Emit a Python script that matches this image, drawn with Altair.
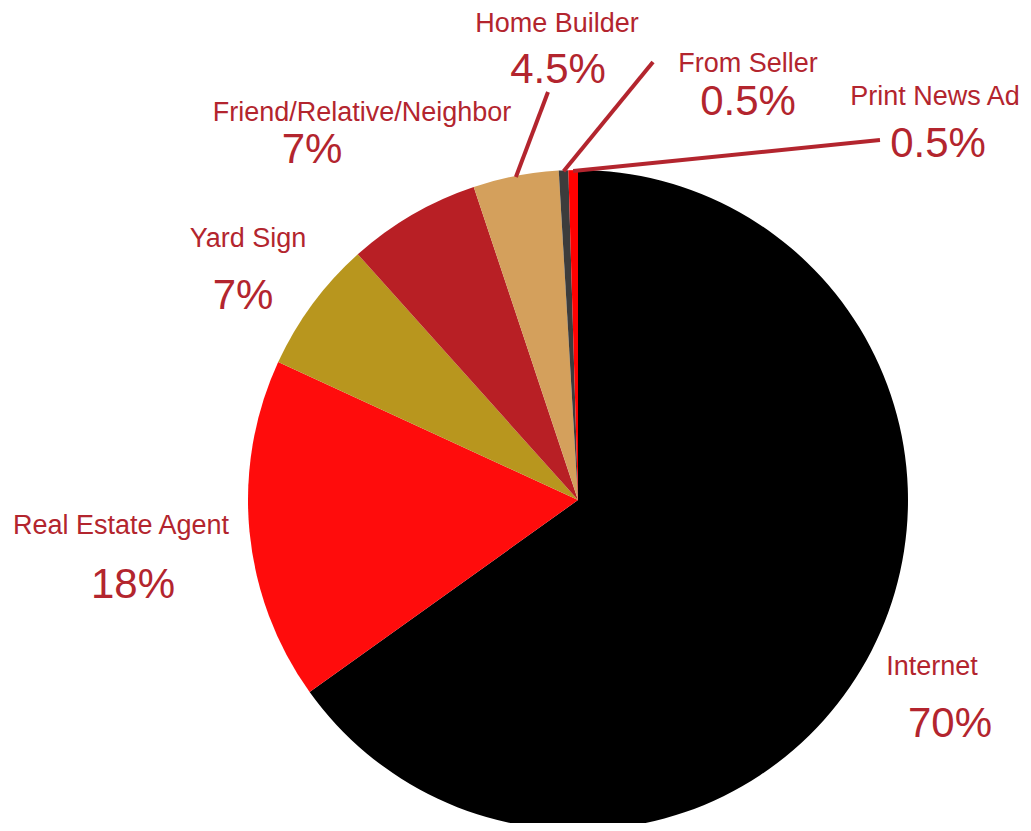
import math
import altair as alt
import pandas as pd

# ---- data ----
categories = ["Internet", "Real Estate Agent", "Yard Sign", "Friend/Relative/Neighbor",
              "Home Builder", "From Seller", "Print News Ad"]
values = [70, 18, 7, 7, 4.5, 0.5, 0.5]

# ---- styles / layout ----
colors = ["#000000", "#FF0C0C", "#B8961E", "#B81F25", "#D4A05C", "#3C3C3C", "#FF0000"]
TEXT_COLOR = "#B3252E"
W, H = 1015, 815
CX, CY, R = 570, 492, 330
name_pos = [(924, 667), (113, 526), (240, 239), (354, 113), (549, 24), (740, 64), (927, 97)]
pct_pos = [(942, 729), (125, 590), (235, 301), (304, 155), (550, 75), (740, 107), (930, 149)]
leader_out = {"Home Builder": (540, 84), "From Seller": (645, 54), "Print News Ad": (872, 132)}

total = sum(values)
pie_df = pd.DataFrame({"category": categories, "value": values, "order": list(range(len(values)))})

names_rows, pct_rows, rule_rows = [], [], []
cum = 0.0
for i, (c, v) in enumerate(zip(categories, values)):
    mid = (cum + v / 2) / total * 2 * math.pi
    cum += v
    names_rows.append({"x": name_pos[i][0], "y": name_pos[i][1], "text": c})
    pct_rows.append({"x": pct_pos[i][0], "y": pct_pos[i][1], "text": f"{v:g}%"})
    if c in leader_out:
        rule_rows.append({"x": leader_out[c][0], "y": leader_out[c][1],
                          "x2": CX + (R - 1) * math.sin(mid), "y2": CY - (R - 1) * math.cos(mid)})

xs = alt.Scale(domain=[0, W], nice=False, zero=False)
ys = alt.Scale(domain=[0, H], nice=False, zero=False, reverse=True)

arc = alt.Chart(pie_df).mark_arc(outerRadius=R, strokeWidth=0).encode(
    theta=alt.Theta("value:Q", stack=True),
    color=alt.Color("category:N", scale=alt.Scale(domain=categories, range=colors), legend=None),
    order=alt.Order("order:Q"),
    x=alt.value(CX),
    y=alt.value(CY),
)

rules = alt.Chart(pd.DataFrame(rule_rows)).mark_rule(strokeWidth=4, color=TEXT_COLOR).encode(
    x=alt.X("x:Q", scale=xs, axis=None),
    y=alt.Y("y:Q", scale=ys, axis=None),
    x2="x2:Q",
    y2="y2:Q",
)

names = alt.Chart(pd.DataFrame(names_rows)).mark_text(
    font="Liberation Sans", fontSize=27, color=TEXT_COLOR, align="center", baseline="alphabetic"
).encode(
    x=alt.X("x:Q", scale=xs, axis=None),
    y=alt.Y("y:Q", scale=ys, axis=None),
    text="text:N",
)

pcts = alt.Chart(pd.DataFrame(pct_rows)).mark_text(
    font="Liberation Sans", fontSize=42, color=TEXT_COLOR, align="center", baseline="alphabetic"
).encode(
    x=alt.X("x:Q", scale=xs, axis=None),
    y=alt.Y("y:Q", scale=ys, axis=None),
    text="text:N",
)

chart = alt.layer(arc, rules, names, pcts).properties(
    width=W, height=H, padding=0, autosize="none", background="white"
).configure_view(stroke=None)

chart.save("out.html", embed_options={"renderer": "svg", "actions": False})
